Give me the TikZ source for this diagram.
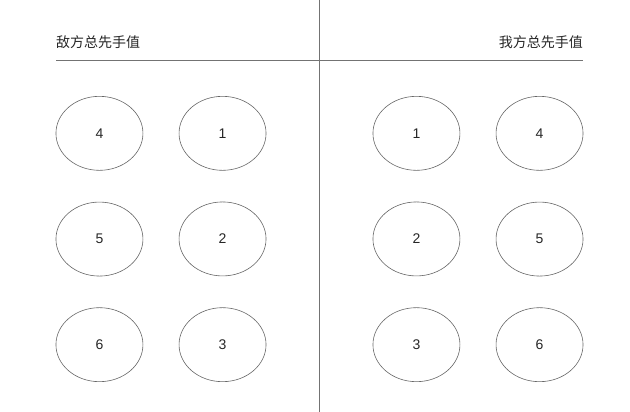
\documentclass[tikz,border=0pt]{standalone}
\usepackage{fontspec}
\setmainfont{Liberation Sans}
\newfontfamily\cjk{Noto Sans CJK SC}
\usetikzlibrary{matrix,shapes.geometric}

\begin{document}
\begin{tikzpicture}[x=1pt, y=-1pt,
  disc/.style={draw=black!60, line width=0.6pt, ellipse, minimum width=87pt, minimum height=74pt,
    inner sep=0pt, text=black!85, font=\fontsize{14}{14}\selectfont},
  title/.style={text=black!85, inner sep=0pt, font=\cjk\fontsize{14}{14}\selectfont},
  rule/.style={draw=black!55, line width=0.8pt}]
  \useasboundingbox (0,0) rectangle (630,412);
  % enemy side
  \matrix (l) at (161,239) [matrix of nodes, nodes=disc, row sep=31pt, column sep=35.5pt]
  {
 4 & 1 \\
 5 & 2 \\
 6 & 3 \\
};
  % own side
  \matrix (r) at (478,239) [matrix of nodes, nodes=disc, row sep=31pt, column sep=35.5pt]
  {
 1 & 4 \\
 2 & 5 \\
 3 & 6 \\
};
  \node[title, anchor=base west] (enemy) at (56,47.5) {敌方总先手值};
  \node[title, anchor=base east] (own) at (583,47.5) {我方总先手值};
  \coordinate (vtop) at (319.5,0);
  \coordinate (vbot) at (319.5,412);
  \coordinate (hl) at (56,60);
  \coordinate (hr) at (583,60);
  \path[rule]
  (vtop) edge (vbot)
  (hl) edge (hr)
  ;
\end{tikzpicture}
\end{document}
